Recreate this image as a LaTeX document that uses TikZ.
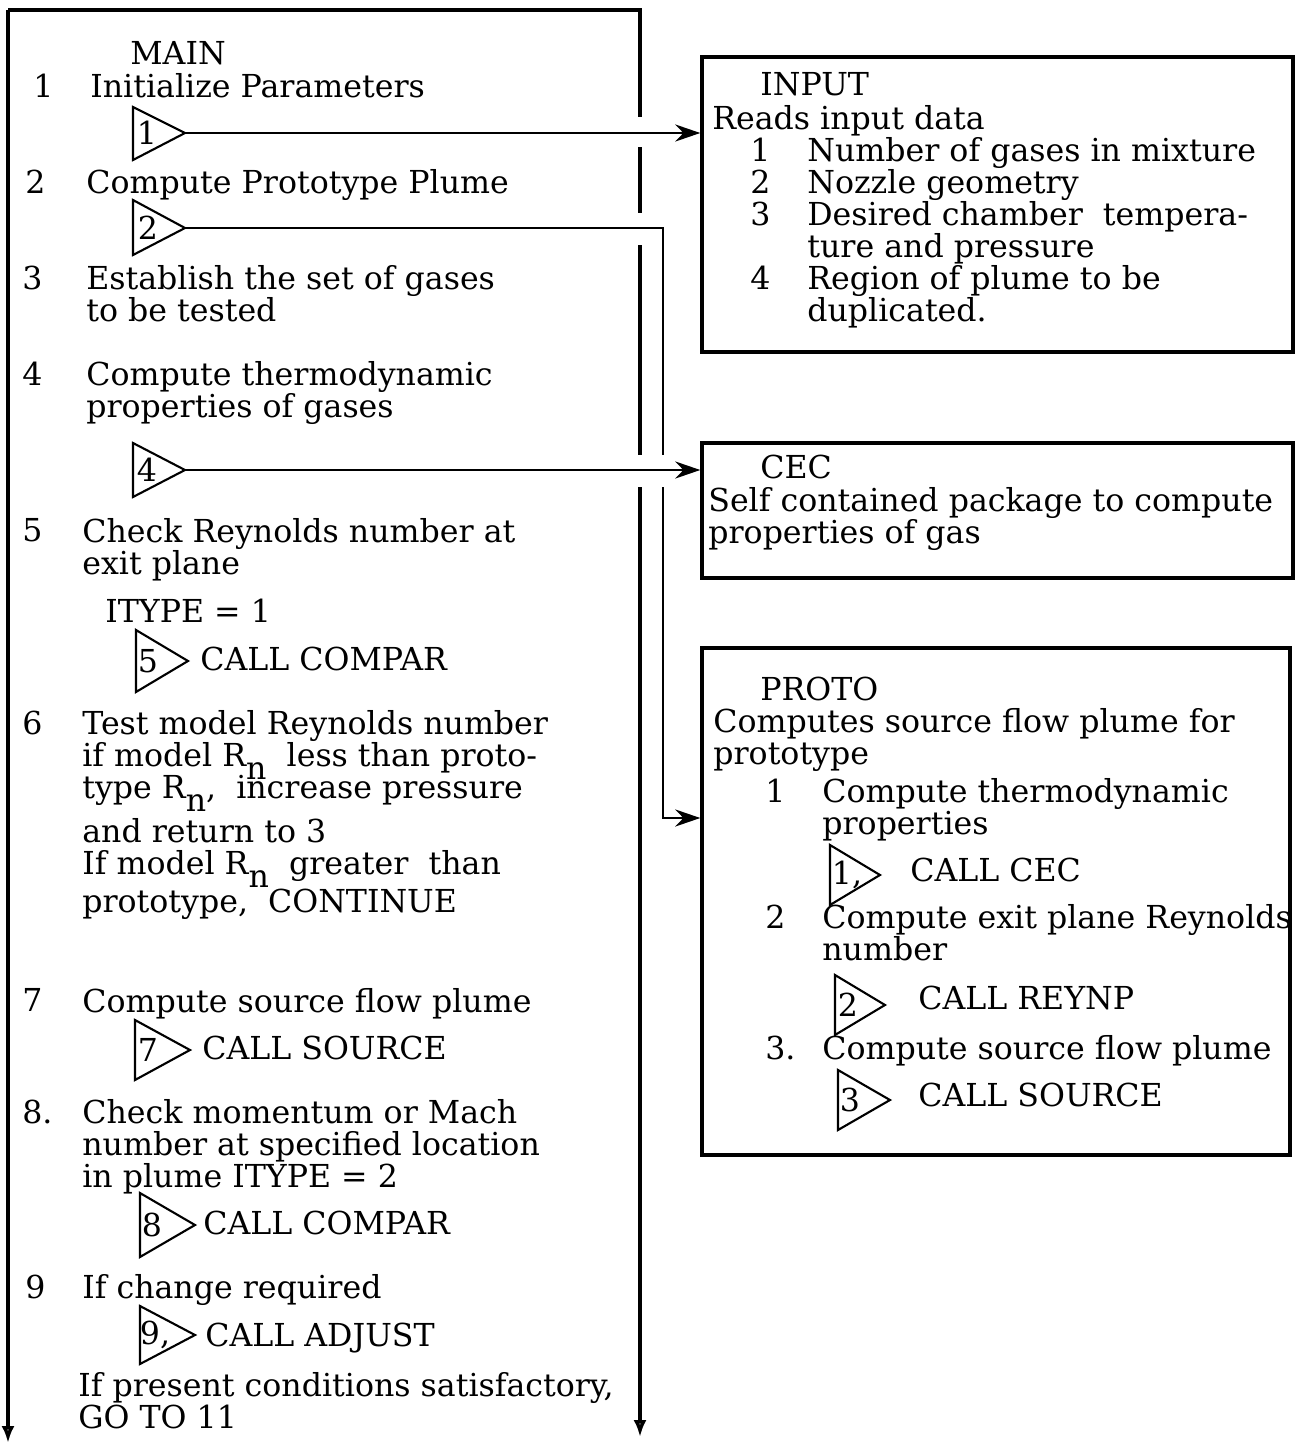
\documentclass[tikz,border=0pt]{standalone}
\usepackage{fontspec}
\setmainfont{DejaVu Serif}
\usetikzlibrary{arrows.meta}

\begin{document}
\begin{tikzpicture}
            [x=0.02cm,y=-0.02cm,
            every node/.style={inner sep=0pt,font=\fontsize{18}{0.64cm}\selectfont},
            txt/.style={anchor=north west,yshift=13.4pt,align=left},
            num/.style={anchor=center},
            box/.style={draw,line width=2pt,minimum width=11.82cm},
            tri/.style={draw,line width=1.2pt,line join=miter},
            frame/.style={line width=2pt},
            flow/.style={line width=1.6pt},
            head/.style={-{Stealth[length=0.5cm,width=0.34cm]}},
            down/.style={-{Latex[open,length=0.34cm,width=0.26cm]}}]
            \useasboundingbox (0,0) rectangle (1297,1447);

            % MAIN frame
            \draw[frame,down] (8,10) -- (8,1443);
            \draw[frame] (8,10) -- (640,10) -- (640,117);
            \draw[frame] (640,147) -- (640,213);
            \draw[frame] (640,245) -- (640,455);
            \draw[frame,down] (640,487) -- (640,1437);

            % routine boxes
            \node[box,minimum height=5.9cm] (input) at (997.5,204.5) {};
            \node[box,minimum height=2.7cm] (cec) at (997.5,510.5) {};
            \node[box,minimum height=10.14cm,minimum width=11.76cm] (proto) at (996,901.5) {};

            % MAIN text
            \node[txt] (main) at (130,65) {MAIN};
            \node[txt] (m1) at (33,97) {1};
            \node[txt] (s1) at (90,97) {Initialize Parameters};
            \draw[tri] (133,107) -- (185,133) -- (133,160) -- cycle;
            \coordinate (a1) at (185,133);
            \node[num] (t1) at (147,133) {1};
            \node[txt] (m2) at (25,193) {2};
            \node[txt] (s2) at (86,193) {Compute Prototype Plume};
            \draw[tri] (133,200) -- (185,228) -- (133,255) -- cycle;
            \coordinate (a2) at (185,228);
            \node[num] (t2) at (148,228) {2};
            \node[txt] (m3) at (22,289) {3};
            \node[txt] (s3) at (86,289) {Establish the set of gases\\to be tested};
            \node[txt] (m4) at (22,385) {4};
            \node[txt] (s4) at (86,385) {Compute thermodynamic\\properties of gases};
            \draw[tri] (133,443) -- (185,470) -- (133,497) -- cycle;
            \coordinate (a4) at (185,470);
            \node[num] (t4) at (147,470) {4};
            \node[txt] (m5) at (22,542) {5};
            \node[txt] (s5) at (82,542) {Check Reynolds number at\\exit plane};
            \node[txt] (itype1) at (105,622) {ITYPE = 1};
            \draw[tri] (136,630) -- (188,661) -- (136,692) -- cycle;
            \node[num] (t5) at (148,661) {5};
            \node[txt] (c5) at (200,670) {CALL COMPAR};
            \node[txt] (m6) at (22,734) {6};
            \node[txt] (s6) at (82,734) {Test model Reynolds number\\
              if model R\raisebox{-7pt}[0pt][0pt]{n}\ \ less than proto-\\
              type R\raisebox{-7pt}[0pt][0pt]{n}, \ increase pressure};
            \node[txt] (s6b) at (82,842) {and return to 3\\
              If model R\raisebox{-7pt}[0pt][0pt]{n}\ \ greater \ than};
            \node[txt] (s6c) at (82,912) {prototype, \ CONTINUE};
            \node[txt] (m7) at (22,1012) {7};
            \node[txt] (s7) at (82,1012) {Compute source flow plume};
            \draw[tri] (135,1020) -- (190,1050) -- (135,1080) -- cycle;
            \node[num] (t7) at (148,1050) {7};
            \node[txt] (c7) at (202,1059) {CALL SOURCE};
            \node[txt] (m8) at (22,1123) {8.};
            \node[txt] (s8) at (82,1123) {Check momentum or Mach\\number at specified location\\in plume ITYPE = 2};
            \draw[tri] (140,1193) -- (195,1225) -- (140,1257) -- cycle;
            \node[num] (t8) at (152,1225) {8};
            \node[txt] (c8) at (203,1234) {CALL COMPAR};
            \node[txt] (m9) at (25,1298) {9};
            \node[txt] (s9) at (82,1298) {If change required};
            \draw[tri] (140,1306) -- (195,1335) -- (140,1364) -- cycle;
            \node[num] (t9) at (155,1335) {9,};
            \node[txt] (c9) at (205,1346) {CALL ADJUST};
            \node[txt] (s10) at (78,1396) {If present conditions satisfactory,\\GO TO 11};

            % INPUT text
            \node[txt] (inhead) at (760,96) {INPUT};
            \node[txt] (inread) at (712,129) {Reads input data};
            \node[txt] (innum) at (750,161) {1\\2\\3\\ \\4};
            \node[txt] (inlist) at (807,161) {Number of gases in mixture\\Nozzle geometry\\Desired chamber \ tempera-\\ture and pressure\\Region of plume to be\\duplicated.};

            % CEC text
            \node[txt] (cechead) at (760,478) {CEC};
            \node[txt] (cectext) at (708,511) {Self contained package to compute\\properties of gas};

            % PROTO text
            \node[txt] (prhead) at (760,700) {PROTO};
            \node[txt] (prtext) at (713,732) {Computes source flow plume for\\prototype};
            \node[txt] (p1) at (765,802) {1};
            \node[txt] (pt1) at (822,802) {Compute thermodynamic\\properties};
            \draw[tri] (830,845) -- (880,875) -- (830,905) -- cycle;
            \node[num] (pn1) at (847,875) {1,};
            \node[txt] (pc1) at (910,881) {CALL CEC};
            \node[txt] (p2) at (765,928) {2};
            \node[txt] (pt2) at (822,928) {Compute exit plane Reynolds\\number};
            \draw[tri] (835,975) -- (885,1005) -- (835,1035) -- cycle;
            \node[num] (pn2) at (848,1005) {2};
            \node[txt] (pc2) at (918,1009) {CALL REYNP};
            \node[txt] (p3) at (765,1059) {3.};
            \node[txt] (pt3) at (822,1059) {Compute source flow plume};
            \draw[tri] (838,1070) -- (890,1100) -- (838,1130) -- cycle;
            \node[num] (pn3) at (850,1100) {3};
            \node[txt] (pc3) at (918,1106) {CALL SOURCE};

            % calls
            \draw[flow,head] (a1) -- (a1 -| input.west);
            \draw[flow,head] (a4) -- (a4 -| cec.west);
            \coordinate (bend) at (663,228);
            \coordinate (gap) at (663,487);
            \draw[flow] (a2) -- (bend) -- (663,455);
            \draw[flow,head] (gap) -- (663,818) -- (proto.west |- 0,818);

        \end{tikzpicture}
\end{document}
